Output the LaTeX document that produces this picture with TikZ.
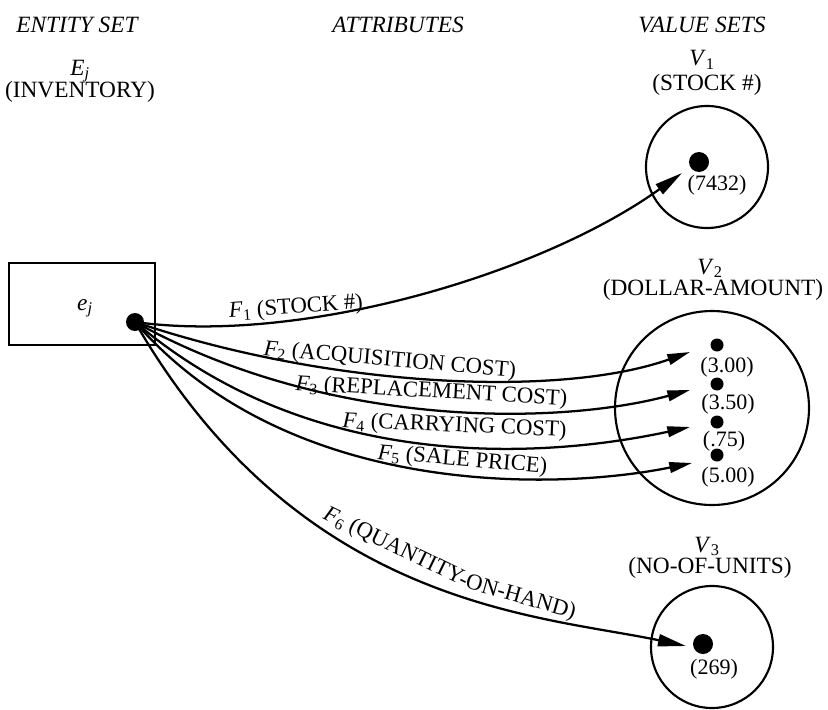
\documentclass[tikz,border=0pt]{standalone}
\usepackage{fontspec}
\setmainfont{Liberation Serif}
\usetikzlibrary{arrows.meta}
\newcommand{\lblsize}{\fontsize{17.5}{21}\selectfont}
\newcommand{\fnsize}{\fontsize{17}{20}\selectfont}
\newcommand{\valsize}{\fontsize{16.5}{20}\selectfont}
\newcommand{\fname}[1]{\textit{F}\textsubscript{#1}}
\begin{document}
\begin{tikzpicture}[x=0.75pt,y=-0.75pt,
  txt/.style={anchor=base, inner sep=0pt, font=\lblsize},
  head/.style={txt, font=\lblsize\itshape},
  val/.style={anchor=base, inner sep=0pt, font=\valsize},
  flabel/.style={anchor=base west, inner sep=0pt, font=\fnsize},
  setcircle/.style={circle, draw, line width=1.6pt, inner sep=0pt},
  elem/.style={circle, fill, inner sep=0pt, minimum size=#1},
  fn/.style={line width=1.7pt, -{Triangle[length=17pt,width=8pt]}},
  fnlong/.style={line width=1.7pt, -{Triangle[length=21pt,width=9pt]}}
]
\useasboundingbox (0,0) rectangle (828,710);

% column headings
\node[head] (hEnt)  at (77,33)  {ENTITY SET};
\node[head] (hAttr) at (398,33) {ATTRIBUTES};
\node[head] (hVal)  at (702,33) {VALUE SETS};

% entity set
\node[txt] (Ej)  at (80,75) {\textit{E}\textsubscript{\textit{j}}};
\node[txt] (inv) at (80,98) {(INVENTORY)};
\node[draw, line width=1.7pt, minimum width=109.5pt, minimum height=61.5pt,
      inner sep=0pt] (box) at (82,304) {};
\node[txt] (ej) at (85,310) {\textit{e}\textsubscript{\textit{j}}};

% value sets
\node[txt] (V1n)   at (702,66)  {\textit{V}\textsubscript{1}};
\node[txt] (stock) at (707,91)  {(STOCK \#)};
\node[setcircle, minimum size=91.5pt] (V1) at (707,167) {};

\node[txt] (V2n)    at (710,274) {\textit{V}\textsubscript{2}};
\node[txt] (dollar) at (713,295) {(DOLLAR-AMOUNT)};
\node[setcircle, minimum size=145.5pt] (V2) at (712,408) {};

\node[txt] (V3n)   at (707,552) {\textit{V}\textsubscript{3}};
\node[txt] (units) at (710,573) {(NO-OF-UNITS)};
\node[setcircle, minimum size=91.5pt] (V3) at (712,647) {};

% value labels
\node[val] (l7432) at (717,190) {(7432)};
\node[val] (l300)  at (727,372) {(3.00)};
\node[val] (l350)  at (728,409) {(3.50)};
\node[val] (l75)   at (724,446) {(.75)};
\node[val] (l500)  at (728,482) {(5.00)};
\node[val] (l269)  at (714,674) {(269)};

% arrow ends
\coordinate (t1) at (682,173);
\coordinate (t2) at (690,352);
\coordinate (t3) at (690,390);
\coordinate (t4) at (690,427);
\coordinate (t5) at (692,463);
\coordinate (t6) at (686,646);
\coordinate (src) at (135,322);

% attribute functions
\draw[fnlong] (src) .. controls (300,345) and (540,275) .. (t1);
\draw[fn] (src) .. controls (330,388) and (560,398) .. (t2);
\draw[fn] (src) .. controls (330,430) and (560,425) .. (t3);
\draw[fn] (src) .. controls (320,480) and (560,455) .. (t4);
\draw[fn] (src) .. controls (290,500) and (560,490) .. (t5);
\draw[fnlong] (src) .. controls (300,608) and (539,615) .. (t6);

% attribute names
\node[flabel, rotate=4]    (f1) at (229,318) {\fname{1} (STOCK \#)};
\node[flabel, rotate=-5]   (f2) at (263,355) {\fname{2} (ACQUISITION COST)};
\node[flabel, rotate=-3.2] (f3) at (295,390) {\fname{3} (REPLACEMENT COST)};
\node[flabel, rotate=-2.5] (f4) at (342,427) {\fname{4} (CARRYING COST)};
\node[flabel, rotate=-4.7] (f5) at (377,459) {\fname{5} (SALE PRICE)};
\node[flabel, rotate=-26]  (f6a) at (322,518) {\fname{6} (QUANTITY-};
\node[flabel, rotate=-16]  (f6b) at (f6a.base east) {ON-HAND)};

% elements
\node[elem=13.5pt] (e) at (src) {};
\node[elem=15pt] (v7432) at (699,162) {};
\node[elem=9.75pt] (v300) at (717,345) {};
\node[elem=9.75pt] (v350) at (717,384) {};
\node[elem=9.75pt] (v75)  at (717,422) {};
\node[elem=9.75pt] (v500) at (717,455) {};
\node[elem=15pt] (v269) at (703,644) {};
\end{tikzpicture}
\end{document}
